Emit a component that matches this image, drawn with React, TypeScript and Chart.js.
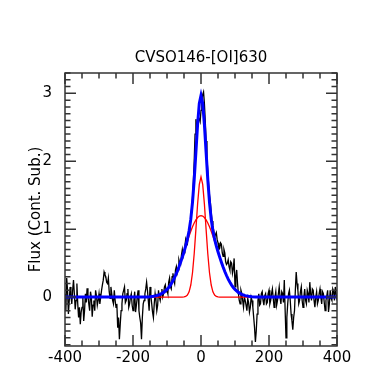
import React, { useEffect, useRef } from "react";
import { Chart, registerables } from "chart.js";

Chart.register(...registerables);

const TITLE = "CVSO146-[OI]630";
const Y_LABEL = "Flux (Cont. Sub.)";
const X_MIN = -400;
const X_MAX = 400;
const Y_MIN = -0.72;
const Y_MAX = 3.3;
const X_TICKS = [-400, -200, 0, 200, 400];
const Y_TICKS = [0, 1, 2, 3];
const X_MINOR_STEP = 50;
const Y_MINOR_STEP = 0.1;

// Observed spectrum: velocity (km/s)
const SPEC_V = [
  -400, -397.5, -395, -392.5, -390, -387.5, -385, -382.5, -380, -377.5, -375, -372.5, -370, -367.5, -365, -362.5, -360, -357.5, -355, -352.5,
  -350, -347.5, -345, -342.5, -340, -337.5, -335, -332.5, -330, -327.5, -325, -322.5, -320, -317.5, -315, -312.5, -310, -307.5, -305, -302.5,
  -300, -297.5, -295, -292.5, -290, -287.5, -285, -282.5, -280, -277.5, -275, -272.5, -270, -267.5, -265, -262.5, -260, -257.5, -255, -252.5,
  -250, -247.5, -245, -242.5, -240, -237.5, -235, -232.5, -230, -227.5, -225, -222.5, -220, -217.5, -215, -212.5, -210, -207.5, -205, -202.5,
  -200, -197.5, -195, -192.5, -190, -187.5, -185, -182.5, -180, -177.5, -175, -172.5, -170, -167.5, -165, -162.5, -160, -157.5, -155, -152.5,
  -150, -147.5, -145, -142.5, -140, -137.5, -135, -132.5, -130, -127.5, -125, -122.5, -120, -117.5, -115, -112.5, -110, -107.5, -105, -102.5,
  -100, -97.5, -95, -92.5, -90, -87.5, -85, -82.5, -80, -77.5, -75, -72.5, -70, -67.5, -65, -62.5, -60, -57.5, -55, -52.5,
  -50, -47.5, -45, -42.5, -40, -37.5, -35, -32.5, -30, -27.5, -25, -22.5, -20, -17.5, -15, -12.5, -10, -7.5, -5, -2.5,
  0, 2.5, 5, 7.5, 10, 12.5, 15, 17.5, 20, 22.5, 25, 27.5, 30, 32.5, 35, 37.5, 40, 42.5, 45, 47.5,
  50, 52.5, 55, 57.5, 60, 62.5, 65, 67.5, 70, 72.5, 75, 77.5, 80, 82.5, 85, 87.5, 90, 92.5, 95, 97.5,
  100, 102.5, 105, 107.5, 110, 112.5, 115, 117.5, 120, 122.5, 125, 127.5, 130, 132.5, 135, 137.5, 140, 142.5, 145, 147.5,
  150, 152.5, 155, 157.5, 160, 162.5, 165, 167.5, 170, 172.5, 175, 177.5, 180, 182.5, 185, 187.5, 190, 192.5, 195, 197.5,
  200, 202.5, 205, 207.5, 210, 212.5, 215, 217.5, 220, 222.5, 225, 227.5, 230, 232.5, 235, 237.5, 240, 242.5, 245, 247.5,
  250, 252.5, 255, 257.5, 260, 262.5, 265, 267.5, 270, 272.5, 275, 277.5, 280, 282.5, 285, 287.5, 290, 292.5, 295, 297.5,
  300, 302.5, 305, 307.5, 310, 312.5, 315, 317.5, 320, 322.5, 325, 327.5, 330, 332.5, 335, 337.5, 340, 342.5, 345, 347.5,
  350, 352.5, 355, 357.5, 360, 362.5, 365, 367.5, 370, 372.5, 375, 377.5, 380, 382.5, 385, 387.5, 390, 392.5, 395, 397.5,
  400,
];
// Observed spectrum: continuum-subtracted flux
const SPEC_FLUX = [
  0.05, -0.2, 0.28, 0.1, -0.25, -0.05, 0.15, 0.02, -0.1, 0.1, 0.25, 0.05, -0.18, -0.05, 0.2, -0.1, -0.3, -0.15, -0.4, -0.22,
  -0.15, 0.0, -0.35, -0.2, 0.05, -0.08, 0.13, 0.02, -0.1, -0.2, 0.08, 0.0, -0.29, -0.12, -0.05, -0.2, 0.1, 0.02, -0.12, -0.05,
  0.05, -0.1, 0.0, 0.1, 0.18, 0.25, 0.37, 0.33, 0.3, 0.22, 0.2, 0.28, 0.08, -0.02, 0.15, 0.05, -0.05, -0.1, 0.1, -0.05,
  -0.15, -0.1, -0.45, -0.3, -0.62, -0.4, -0.2, -0.1, 0.05, 0.1, 0.15, -0.08, -0.05, 0.05, 0.12, -0.15, -0.1, 0.0, 0.05, -0.12,
  -0.2, -0.05, 0.08, -0.22, -0.12, 0.0, 0.1, -0.2, -0.3, -0.38, -0.62, -0.3, -0.1, -0.05, 0.05, 0.12, 0.22, 0.1, -0.05, -0.2,
  0.15, 0.02, -0.1, -0.22, -0.3, -0.1, 0.05, -0.05, -0.2, -0.12, 0.1, 0.0, -0.05, 0.05, 0.12, 0.0, 0.05, 0.15, 0.18, 0.08,
  0.1, 0.05, 0.22, 0.28, 0.15, 0.12, 0.3, 0.35, 0.25, 0.2, 0.4, 0.45, 0.35, 0.4, 0.55, 0.5, 0.48, 0.62, 0.7, 0.6,
  0.65, 0.75, 0.85, 0.8, 0.78, 0.92, 0.98, 1.0, 1.15, 1.3, 1.45, 1.7, 2.0, 2.4, 2.62, 2.5, 2.55, 2.65, 2.62, 2.58,
  2.75, 2.9, 2.98, 3.02, 2.85, 2.6, 2.3, 2.05, 1.85, 1.65, 1.5, 1.4, 1.25, 1.12, 1.05, 0.98, 0.88, 0.92, 0.95, 0.85,
  0.8, 0.7, 0.72, 0.8, 0.78, 0.65, 0.6, 0.7, 0.65, 0.52, 0.48, 0.5, 0.55, 0.45, 0.4, 0.52, 0.5, 0.35, 0.42, 0.57,
  0.15, 0.3, 0.4, 0.2, 0.05, -0.05, -0.1, 0.1, 0.05, -0.05, -0.15, 0.0, -0.05, -0.12, -0.2, -0.02, -0.08, -0.22, -0.15, 0.0,
  -0.05, -0.15, -0.3, -0.45, -0.66, -0.5, -0.25, -0.05, 0.05, -0.12, -0.1, 0.05, 0.08, -0.05, -0.12, 0.02, 0.05, -0.1, -0.08, 0.05,
  0.1, -0.1, -0.05, 0.05, 0.12, -0.02, -0.15, 0.0, 0.08, -0.12, -0.05, 0.05, 0.15, 0.0, -0.1, 0.08, 0.05, -0.08, 0.25, -0.2,
  -0.6, -0.3, -0.1, 0.05, 0.1, -0.05, -0.25, -0.35, -0.48, -0.3, -0.2, 0.1, 0.37, 0.2, 0.1, -0.1, -0.05, 0.08, 0.15, -0.05,
  -0.15, 0.0, 0.12, -0.05, -0.1, 0.1, 0.05, -0.08, 0.22, 0.05, -0.05, 0.12, 0.1, -0.05, -0.15, 0.0, 0.08, -0.1, -0.05, 0.05,
  0.12, 0.0, -0.1, 0.08, 0.05, -0.08, -0.2, -0.05, 0.02, 0.1, -0.22, -0.1, 0.1, -0.02, -0.05, 0.12, 0.08, -0.05, 0.15, 0.05,
  -0.05,
];

// Fitted components
const MODEL_V = [
  -400, -200, -180, -160, -150, -140, -130, -120, -110, -100,
  -95, -90, -85, -80, -75, -70, -65, -60, -55, -50,
  -45, -40, -35, -30, -25, -20, -15, -10, -5, 0,
  5, 10, 15, 20, 25, 30, 35, 40, 45, 50,
  55, 60, 65, 70, 75, 80, 85, 90, 95, 100,
  110, 120, 130, 140, 150, 160, 180, 200, 400,
];
const BROAD = [
  0, 0, 0.001, 0.003, 0.006, 0.012, 0.022, 0.04, 0.069, 0.113,
  0.142, 0.177, 0.218, 0.264, 0.318, 0.377, 0.442, 0.513, 0.587, 0.665,
  0.744, 0.822, 0.898, 0.97, 1.035, 1.092, 1.138, 1.172, 1.193, 1.2,
  1.193, 1.172, 1.138, 1.092, 1.035, 0.97, 0.898, 0.822, 0.744, 0.665,
  0.587, 0.513, 0.442, 0.377, 0.318, 0.264, 0.218, 0.177, 0.142, 0.113,
  0.069, 0.04, 0.022, 0.012, 0.006, 0.003, 0.001, 0, 0,
];
const NARROW = [
  0, 0, 0, 0, 0, 0, 0, 0, 0, 0,
  0, 0, 0, 0, 0, 0, 0, 0, 0.001, 0.003,
  0.01, 0.03, 0.078, 0.178, 0.359, 0.638, 0.997, 1.372, 1.66, 1.77,
  1.66, 1.372, 0.997, 0.638, 0.359, 0.178, 0.078, 0.03, 0.01, 0.003,
  0.001, 0, 0, 0, 0, 0, 0, 0, 0, 0,
  0, 0, 0, 0, 0, 0, 0, 0, 0,
];
const TOTAL = [
  0, 0, 0.001, 0.003, 0.006, 0.012, 0.022, 0.04, 0.069, 0.113,
  0.142, 0.177, 0.218, 0.264, 0.318, 0.377, 0.442, 0.513, 0.588, 0.668,
  0.754, 0.852, 0.976, 1.148, 1.394, 1.73, 2.135, 2.544, 2.853, 2.97,
  2.853, 2.544, 2.135, 1.73, 1.394, 1.148, 0.976, 0.852, 0.754, 0.668,
  0.588, 0.513, 0.442, 0.377, 0.318, 0.264, 0.218, 0.177, 0.142, 0.113,
  0.069, 0.04, 0.022, 0.012, 0.006, 0.003, 0.001, 0, 0,
];

const FONT = "'DejaVu Sans', sans-serif";

const toPoints = (xs: number[], ys: number[]) => xs.map((x, i) => ({ x, y: ys[i] }));

const framePlugin = {
  id: "idlFrame",
  afterDatasetsDraw(chart: any) {
    const { ctx, chartArea: a, scales } = chart;
    const xs = scales.x;
    const ys = scales.y;
    ctx.save();
    ctx.strokeStyle = "#333";
    ctx.lineWidth = 1.5;
    ctx.beginPath();
    const nx = Math.round((X_MAX - X_MIN) / X_MINOR_STEP);
    for (let i = 0; i <= nx; i++) {
      const v = X_MIN + i * X_MINOR_STEP;
      const px = xs.getPixelForValue(v);
      const len = X_TICKS.includes(v) ? 11 : 5.5;
      ctx.moveTo(px, a.bottom);
      ctx.lineTo(px, a.bottom - len);
      ctx.moveTo(px, a.top);
      ctx.lineTo(px, a.top + len);
    }
    const s = Math.ceil(Y_MIN / Y_MINOR_STEP - 1e-6);
    const e = Math.floor(Y_MAX / Y_MINOR_STEP + 1e-6);
    for (let i = s; i <= e; i++) {
      const v = i * Y_MINOR_STEP;
      const py = ys.getPixelForValue(v);
      const len = i % 10 === 0 ? 11 : 5.5;
      ctx.moveTo(a.left, py);
      ctx.lineTo(a.left + len, py);
      ctx.moveTo(a.right, py);
      ctx.lineTo(a.right - len, py);
    }
    ctx.stroke();
    ctx.strokeRect(a.left, a.top, a.right - a.left, a.bottom - a.top);
    // title centred over the plot area
    ctx.fillStyle = "#000";
    ctx.font = `15px ${FONT}`;
    ctx.textAlign = "center";
    ctx.textBaseline = "middle";
    ctx.fillText(TITLE, (a.left + a.right) / 2, 58);
    ctx.restore();
  },
};

export default function App() {
  const ref = useRef<HTMLCanvasElement | null>(null);
  useEffect(() => {
    if (!ref.current) return;
    const chart = new Chart(ref.current, {
      type: "line",
      data: {
        datasets: [
          {
            data: toPoints(MODEL_V, TOTAL),
            borderColor: "#0000ff",
            borderWidth: 3,
            pointRadius: 0,
            tension: 0,
          },
          {
            data: toPoints(MODEL_V, NARROW),
            borderColor: "#ff0000",
            borderWidth: 1.3,
            pointRadius: 0,
            tension: 0,
          },
          {
            data: toPoints(MODEL_V, BROAD),
            borderColor: "#ff0000",
            borderWidth: 1.3,
            pointRadius: 0,
            tension: 0,
          },
          {
            data: toPoints(SPEC_V, SPEC_FLUX),
            borderColor: "#000000",
            borderWidth: 1.3,
            pointRadius: 0,
            tension: 0,
          },
        ],
      },
      options: {
        animation: false,
        responsive: false,
        layout: { padding: { top: 73, right: 40, bottom: 0, left: 0 } },
        plugins: {
          legend: { display: false },
          tooltip: { enabled: false },
          title: { display: false },
        },
        scales: {
          x: {
            type: "linear",
            min: X_MIN,
            max: X_MAX,
            grid: { display: false },
            border: { display: false },
            afterBuildTicks: (sc: any) => {
              sc.ticks = X_TICKS.map((v) => ({ value: v }));
            },
            afterFit: (sc: any) => {
              sc.height = 23;
            },
            ticks: {
              color: "#000",
              font: { family: FONT, size: 15 },
              padding: -5,
              maxRotation: 0,
              autoSkip: false,
            },
          },
          y: {
            type: "linear",
            min: Y_MIN,
            max: Y_MAX,
            grid: { display: false },
            border: { display: false },
            afterBuildTicks: (sc: any) => {
              sc.ticks = Y_TICKS.map((v) => ({ value: v }));
            },
            afterFit: (sc: any) => {
              sc.width = 65;
            },
            ticks: {
              color: "#000",
              font: { family: FONT, size: 15 },
              padding: 5,
            },
            title: {
              display: true,
              text: Y_LABEL,
              color: "#000",
              font: { family: FONT, size: 15 },
              padding: { top: 27, bottom: 0 },
            },
          },
        },
      },
      plugins: [framePlugin],
    } as any);
    return () => chart.destroy();
  }, []);
  return (
    <div style={{ position: "fixed", left: 0, top: 0, width: 377, height: 369, background: "#fff" }}>
      <canvas ref={ref} width={377} height={369} style={{ display: "block" }} />
    </div>
  );
}
